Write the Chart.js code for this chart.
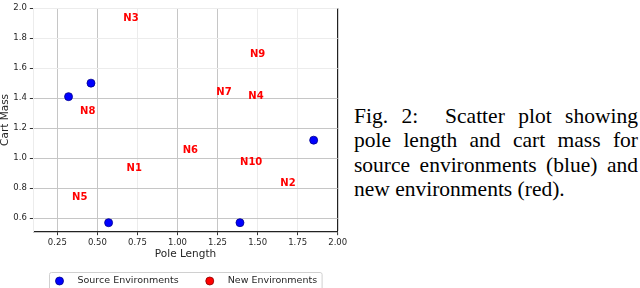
<!DOCTYPE html>
<html><head><meta charset="utf-8">
<script src="https://cdn.jsdelivr.net/npm/chart.js@4.4.0/dist/chart.umd.min.js"></script>
<style>
html,body{margin:0;padding:0;background:#fff;width:640px;height:288px;overflow:hidden;}
#wrap{position:absolute;left:0;top:0;width:350px;height:288px;}
#cap{position:absolute;left:354px;top:104px;width:284px;font-family:"Liberation Serif","Times New Roman",serif;font-size:21.5px;line-height:24.3px;color:#000;}
#cap div{text-align:justify;text-align-last:justify;}
#cap div.last{text-align:left;text-align-last:left;}
</style></head>
<body>
<div id="wrap"><canvas id="c" width="350" height="288"></canvas></div>
<div id="cap">
<div>Fig. 2:&nbsp; Scatter plot showing</div>
<div>pole length and cart mass for</div>
<div>source environments (blue) and</div>
<div class="last">new environments (red).</div>
</div>
<script>
const sourceX = [0.32, 0.46, 0.57, 1.39, 1.85];
const sourceY = [1.41, 1.50, 0.57, 0.57, 1.12];
const newLabels = ['N1','N2','N3','N4','N5','N6','N7','N8','N9','N10'];
const newX = [0.73, 1.69, 0.71, 1.49, 0.39, 1.08, 1.29, 0.44, 1.50, 1.46];
const newY = [0.93, 0.83, 1.93, 1.41, 0.74, 1.05, 1.44, 1.31, 1.69, 0.97];
const xTickLabels = ['0.25','0.50','0.75','1.00','1.25','1.50','1.75','2.00'];
const yTickLabels = ['0.6','0.8','1.0','1.2','1.4','1.6','1.8','2.0'];
const seriesNames = ['Source Environments','New Environments'];

const DARK_GRID = '#c6c6c6', LIGHT_GRID = '#ececec', SPINE = '#222222';
const xDarkVals = [0.25, 0.5, 1.0, 1.25];
const yDarkVals = [0.6, 0.8, 1.0, 1.2, 1.4];
const near = (a, list) => list.some(v => Math.abs(a - v) < 1e-6);

const labelPlugin = {
  id: 'nlabels',
  afterDatasetsDraw(chart) {
    const meta = chart.getDatasetMeta(1);
    const ctx = chart.ctx;
    ctx.save();
    ctx.font = 'bold 10px "DejaVu Sans"';
    ctx.fillStyle = '#ff0000';
    ctx.textAlign = 'center';
    ctx.textBaseline = 'middle';
    meta.data.forEach((p, i) => ctx.fillText(newLabels[i], p.x, p.y));
    ctx.restore();
  }
};

const legendPlugin = {
  id: 'boxlegend',
  afterDraw(chart) {
    const ctx = chart.ctx, a = chart.chartArea;
    ctx.save();
    ctx.font = '9.5px "DejaVu Sans"';
    const w1 = ctx.measureText(seriesNames[0]).width;
    const w2 = ctx.measureText(seriesNames[1]).width;
    const W = 10 + 18 + w1 + 31 + 18 + w2 + 5;
    const cx = (a.left + a.right) / 2;
    const left = Math.round(cx - W / 2) + 0.5;
    const top = Math.round(a.bottom + 40) + 0.5;
    ctx.strokeStyle = '#d0d0d0';
    ctx.lineWidth = 1;
    ctx.beginPath();
    ctx.roundRect(left, top, W, 30, 2);
    ctx.stroke();
    const my = top + 8.5;
    const items = [
      {x: left + 10, fill: '#0000ff', edge: '#00008b', text: seriesNames[0]},
      {x: left + 10 + 18 + w1 + 31, fill: '#ff0000', edge: '#8b0000', text: seriesNames[1]}
    ];
    items.forEach(it => {
      ctx.beginPath();
      ctx.arc(it.x, my, 4, 0, Math.PI * 2);
      ctx.fillStyle = it.fill; ctx.fill();
      ctx.lineWidth = 0.8; ctx.strokeStyle = it.edge; ctx.stroke();
      ctx.fillStyle = '#262626';
      ctx.textAlign = 'left'; ctx.textBaseline = 'middle';
      ctx.fillText(it.text, it.x + 18, my);
    });
    ctx.restore();
  }
};

new Chart(document.getElementById('c'), {
  type: 'scatter',
  data: {
    datasets: [
      { label: seriesNames[0], data: sourceX.map((x, i) => ({x, y: sourceY[i]})),
        backgroundColor: '#0000ff', borderColor: '#00008b', borderWidth: 0.8,
        pointRadius: 4, pointHoverRadius: 4 },
      { label: seriesNames[1], data: newX.map((x, i) => ({x, y: newY[i]})),
        backgroundColor: '#ff0000', borderColor: '#8b0000',
        pointRadius: 0, pointHoverRadius: 0 }
    ]
  },
  options: {
    responsive: false,
    animation: false,
    events: [],
    layout: { padding: { top: 4.7, right: 12.3, bottom: 26.3, left: 0 } },
    plugins: { legend: { display: false }, tooltip: { enabled: false } },
    scales: {
      x: {
        type: 'linear', min: 0.1, max: 2.0,
        afterFit(s) { s.height = 30; },
        ticks: { stepSize: 0.25, includeBounds: false, padding: 2,
          color: '#262626', font: { family: 'DejaVu Sans', size: 8.5 },
          callback: (v) => { const i = Math.round(v / 0.25) - 1; return xTickLabels[i] ?? ''; } },
        grid: {
          color: (c) => c.tick && Math.abs(c.tick.value - 2.0) < 1e-6 ? SPINE : (c.tick && near(c.tick.value, xDarkVals) ? DARK_GRID : LIGHT_GRID),
          lineWidth: (c) => c.tick && Math.abs(c.tick.value - 2.0) < 1e-6 ? 1.2 : 1,
          tickColor: '#333333', tickLength: 3.5, tickWidth: 1
        },
        border: { color: SPINE, width: 1.2 },
        title: { display: true, text: 'Pole Length', color: '#262626',
          font: { family: 'DejaVu Sans', size: 10.5 }, padding: { top: 0, bottom: 1.4 } }
      },
      y: {
        type: 'linear', min: 0.51, max: 2.0,
        afterFit(s) { s.width = 33.3; },
        ticks: { stepSize: 0.2, includeBounds: false, padding: 3,
          color: '#262626', font: { family: 'DejaVu Sans', size: 8.5 },
          callback: (v) => { const i = Math.round((v - 0.6) / 0.2); return yTickLabels[i] ?? ''; } },
        grid: {
          color: (c) => c.tick && near(c.tick.value, yDarkVals) ? DARK_GRID : LIGHT_GRID,
          tickColor: '#333333', tickLength: 3.5, tickWidth: 1
        },
        border: { color: LIGHT_GRID, width: 1 },
        title: { display: true, text: 'Cart Mass', color: '#262626',
          font: { family: 'DejaVu Sans', size: 10.5, lineHeight: 1 }, padding: 0 }
      }
    }
  },
  plugins: [labelPlugin, legendPlugin]
});
</script>
</body></html>
